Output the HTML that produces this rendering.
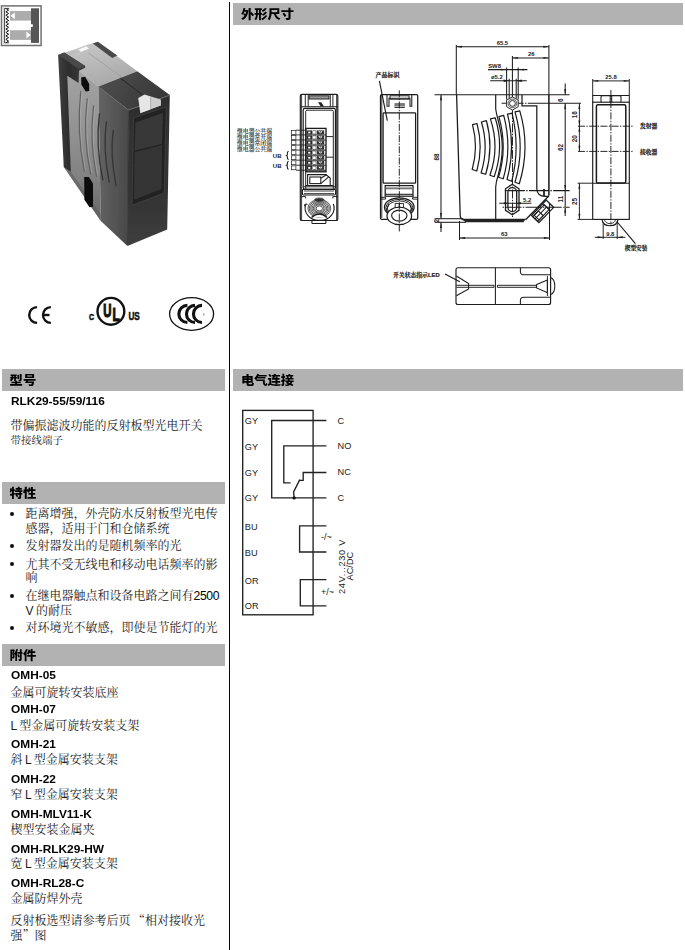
<!DOCTYPE html>
<html lang="zh-CN">
<head>
<meta charset="utf-8">
<title>RLK29-55/59/116</title>
<style>
html,body{margin:0;padding:0;background:#fff;}
body{width:685px;height:950px;position:relative;overflow:hidden;font-family:"Liberation Sans","Noto Serif CJK SC",serif;color:#111;}
.abs{position:absolute;}
.vline{position:absolute;left:229px;top:2px;width:1.2px;height:948px;background:#080808;}
.bar{position:absolute;background:#b2b2b2;height:21.6px;}
.bar span{position:absolute;left:7.6px;top:0.6px;line-height:21.6px;transform:scaleY(0.94);transform-origin:50% 50%;font-family:"Liberation Sans","Noto Sans CJK SC",sans-serif;font-weight:900;font-size:13.3px;color:#000;white-space:nowrap;}
.t{position:absolute;white-space:nowrap;line-height:1;}
.b{font-family:"Liberation Sans",sans-serif;font-weight:bold;font-size:10.8px;color:#000;transform:scaleX(1.10);transform-origin:0 50%;}
.c{font-family:"Liberation Sans","Noto Serif CJK SC",serif;font-size:12px;color:#1c1c1c;word-spacing:-0.8px;}
.q{font-family:"Noto Serif CJK SC",serif;}
.c2{font-family:"Liberation Sans","Noto Serif CJK SC",serif;font-size:10.5px;color:#222;}
.dot{position:absolute;width:3.8px;height:3.8px;border-radius:50%;background:#111;left:10px;margin-top:-0.8px;}
svg{position:absolute;left:0;top:0;overflow:visible;}
svg text{font-family:"Liberation Sans","Noto Serif CJK SC",sans-serif;}
</style>
</head>
<body>
<div class="vline"></div>

<!-- section bars -->
<div class="bar" style="left:233.3px;top:3px;width:449.5px;"><span>外形尺寸</span></div>
<div class="bar" style="left:2px;top:369px;width:222.5px;"><span>型号</span></div>
<div class="bar" style="left:233.3px;top:369px;width:449.5px;"><span>电气连接</span></div>
<div class="bar" style="left:2px;top:482px;width:222.5px;"><span>特性</span></div>
<div class="bar" style="left:2px;top:644.3px;width:222.5px;"><span>附件</span></div>

<!-- model -->
<div class="t b" style="left:10.5px;top:396px;">RLK29-55/59/116</div>
<div class="t c" style="left:10.5px;top:420px;">带偏振滤波功能的反射板型光电开关</div>
<div class="t c2" style="left:10.5px;top:435px;">带接线端子</div>

<!-- features -->
<div class="dot" style="top:512.5px;"></div>
<div class="t c" style="left:25.5px;top:508px;">距离增强，外壳防水反射板型光电传</div>
<div class="t c" style="left:25.5px;top:522.5px;">感器，适用于门和仓储系统</div>
<div class="dot" style="top:544.5px;"></div>
<div class="t c" style="left:25.5px;top:540px;">发射器发出的是随机频率的光</div>
<div class="dot" style="top:563px;"></div>
<div class="t c" style="left:25.5px;top:558.5px;">尤其不受无线电和移动电话频率的影</div>
<div class="t c" style="left:25.5px;top:572px;">响</div>
<div class="dot" style="top:594.5px;"></div>
<div class="t c" style="left:25.5px;top:590px;">在继电器触点和设备电路之间有<span style="font-family:'Liberation Sans',sans-serif;font-size:12.2px;color:#000;letter-spacing:-0.35px;">2500</span></div>
<div class="t c" style="left:25.5px;top:604.5px;">V 的耐压</div>
<div class="dot" style="top:626.5px;"></div>
<div class="t c" style="left:25.5px;top:622px;">对环境光不敏感，即使是节能灯的光</div>

<!-- accessories -->
<div class="t b" style="left:10.5px;top:670px;">OMH-05</div>
<div class="t c" style="left:10.5px;top:686.7px;">金属可旋转安装底座</div>
<div class="t b" style="left:10.5px;top:704px;">OMH-07</div>
<div class="t c" style="left:10.5px;top:719.7px;">L 型金属可旋转安装支架</div>
<div class="t b" style="left:10.5px;top:739px;">OMH-21</div>
<div class="t c" style="left:10.5px;top:754.4px;">斜 L 型金属安装支架</div>
<div class="t b" style="left:10.5px;top:774px;">OMH-22</div>
<div class="t c" style="left:10.5px;top:789.0px;">窄 L 型金属安装支架</div>
<div class="t b" style="left:10.5px;top:809.0px;">OMH-MLV11-K</div>
<div class="t c" style="left:10.5px;top:824.4px;">楔型安装金属夹</div>
<div class="t b" style="left:10.5px;top:844.0px;">OMH-RLK29-HW</div>
<div class="t c" style="left:10.5px;top:858.4px;">宽 L 型金属安装支架</div>
<div class="t b" style="left:10.5px;top:877.7px;">OMH-RL28-C</div>
<div class="t c" style="left:10.5px;top:893.0px;">金属防焊外壳</div>
<div class="t c" style="left:10.5px;top:914.4px;">反射板选型请参考后页 <span class="q">“</span>相对接收光</div>
<div class="t c" style="left:10.5px;top:928.7px;">强<span class="q">”</span>图</div>

<!--PHOTO_S--><svg width="230" height="260" viewBox="0 0 230 260">
<defs>
<filter id="bl" x="-5%" y="-5%" width="110%" height="110%"><feGaussianBlur stdDeviation="0.55"/></filter>
<linearGradient id="gSide" x1="0" y1="0" x2="0" y2="1"><stop offset="0" stop-color="#a6a6a6"/><stop offset="0.45" stop-color="#929292"/><stop offset="0.75" stop-color="#808080"/><stop offset="1" stop-color="#666"/></linearGradient>
<linearGradient id="gStrip" x1="0" y1="0" x2="1" y2="0"><stop offset="0" stop-color="#404040"/><stop offset="0.4" stop-color="#2c2c2c"/><stop offset="1" stop-color="#3e3e3e"/></linearGradient>
<linearGradient id="gLeft" x1="0" y1="0" x2="1" y2="0.1"><stop offset="0" stop-color="#646464"/><stop offset="0.55" stop-color="#565656"/><stop offset="1" stop-color="#4a4a4a"/></linearGradient>
<linearGradient id="gFront" x1="0" y1="0" x2="0" y2="1"><stop offset="0" stop-color="#2e2e2e"/><stop offset="0.7" stop-color="#343434"/><stop offset="1" stop-color="#3e3e3e"/></linearGradient>
<linearGradient id="gTop" x1="0.2" y1="0" x2="0.6" y2="1"><stop offset="0" stop-color="#c8c8c8"/><stop offset="1" stop-color="#a8a8a8"/></linearGradient>
<linearGradient id="gBTop" x1="0" y1="0" x2="1" y2="0.4"><stop offset="0" stop-color="#505050"/><stop offset="1" stop-color="#383838"/></linearGradient>
</defs>
<g filter="url(#bl)">
<!-- top face light gray -->
<polygon points="64.2,52.8 77,48.5 88.5,44.2 97.9,41.9 137.3,71.3 98.4,86.5 79,70.7" fill="url(#gTop)"/>
<line x1="88.5" y1="53" x2="121" y2="76.5" stroke="#9c9c9c" stroke-width="0.8"/>
<polygon points="78.5,49.6 86.5,46.2 89,48.4 81,52" fill="#f8f8f8"/>
<polygon points="67,52.6 74.5,50 78,52.2 70.5,55" fill="#bcbcbc"/>
<!-- side face -->
<polygon points="66,60 98.4,86.5 100.8,221 63.8,167" fill="url(#gSide)"/>
<polygon points="63.8,167 70.8,171.7 100.8,214 100.8,221" fill="#5c5c5c" opacity="0.55"/>
<!-- top right dark piece -->
<polygon points="92.8,43.6 97.9,41.7 117.3,55.4 112.2,58" fill="#484848"/>
<!-- left dark strip with L top -->
<polygon points="58.1,54.9 64.2,52.6 85.2,66 85.2,67.7 79,70.7 78.6,83 67.3,75.8 70.8,171.7 63.8,167" fill="url(#gStrip)"/>
<polygon points="58.1,54.9 64.2,52.6 85.2,66 79,69" fill="#484848"/>
<!-- hex hole -->
<polygon points="81.1,77.5 85.1,76.8 89.2,84 89.2,91 85.7,91.6 81.4,84.5" fill="#0a0a0a"/>
<!-- slot hole -->
<polygon points="84.2,177 88.9,176.9 93,183.4 93,206.7 89.5,207.3 84.4,199.7" fill="#0c0c0c"/>
<!-- front block -->
<polygon points="98.4,86.5 128.8,110.2 127.4,245.9 100.8,221" fill="url(#gLeft)"/>
<polygon points="128.4,110 169.8,95 167.2,229.6 127.4,245.9" fill="url(#gFront)"/>
<polygon points="98.4,86.5 137.3,71.3 169.8,95 128.4,110" fill="url(#gBTop)"/>
<polyline points="98.6,86.8 128.5,110.2 169.6,95.3" fill="none" stroke="#666" stroke-width="0.9"/>
<line x1="128.3" y1="110.4" x2="127.5" y2="245" stroke="#3c3c3c" stroke-width="1"/>
<line x1="120.5" y1="78.2" x2="146" y2="97.5" stroke="#222" stroke-width="0.9"/>
<!-- ribs -->
<g fill="none" stroke-width="1.3" stroke-linecap="round">
<path d="M80.8,91.4 Q76.3,131 84.3,171.2" stroke="#646464"/>
<path d="M87.2,98.9 Q82.6,137 90.7,174.1" stroke="#646464"/>
<path d="M93.6,105.8 Q89.2,140 96.5,176.4" stroke="#646464"/>
<path d="M99.4,113.9 Q95.4,145 102.8,179.9" stroke="#343434"/>
<path d="M106.3,122 Q102.8,150 109.2,182.2" stroke="#343434"/>
<path d="M113.2,130.7 Q109.8,154 116.1,185.7" stroke="#343434"/>
</g>
<g fill="none" stroke-width="0.7" stroke-linecap="round" stroke="#b4b4b4" opacity="0.7">
<path d="M82,92.4 Q77.5,131 85.5,170.2"/>
<path d="M88.4,99.9 Q83.8,137 91.9,173.1"/>
<path d="M94.8,106.8 Q90.4,140 97.7,175.4"/>
</g>
<!-- lens window -->
<polygon points="133.5,117.8 166.3,106.9 164.2,193 132.1,205.3" fill="#242424" stroke="#484848" stroke-width="0.6"/>
<polygon points="135.5,122.6 162.9,113 162,143.8 134.6,150.6" fill="#393939"/>
<polygon points="134.6,152 162,145.2 161.5,189 134.1,199.8" fill="#353535"/>
<!-- LED -->
<polygon points="138.2,98 144.4,94.4 160.8,99.4 160.8,105.5 140.3,113.2" fill="#d2d2d2"/>
<polygon points="138.6,98.4 144.4,95 150.3,96.8 150.3,109.4 140.6,112.8" fill="#e6e6e6"/>
<line x1="150.8" y1="96.8" x2="150.8" y2="109" stroke="#a0a0a0" stroke-width="0.9"/>
<polygon points="151.6,97.4 160.6,100 160.6,105.2 151.6,108.6" fill="#cecece"/>
</g>
</svg>
<!--PHOTO_E-->
<!--ICONS_S--><svg width="230" height="350" viewBox="0 0 230 350">
<!-- mode icon -->
<rect x="1.5" y="5.9" width="39.6" height="39.6" fill="#fff" stroke="#707070" stroke-width="1.5"/>
<rect x="2.4" y="6.8" width="1.8" height="37.8" fill="#dcdcdc"/>
<rect x="10" y="11" width="21.2" height="9.6" fill="#acacac"/>
<rect x="10" y="30.2" width="21.2" height="9.7" fill="#acacac"/>
<rect x="31" y="8.3" width="8" height="34.6" fill="#565656"/>
<rect x="30.6" y="24.2" width="2.2" height="2.8" fill="#fff"/>
<polygon points="10.6,15.8 14.8,12.6 14.8,19.2" fill="#fff"/>
<polygon points="30.6,35 26.4,31.6 26.4,38.4" fill="#fff"/>
<path d="M9.2,8.4 H4.6 V42.8 H9.2" fill="none" stroke="#111" stroke-width="0.8"/>
<path d="M5.9,8.4 L8.6,10.12 L5.9,11.84 L8.6,13.56 L5.9,15.28 L8.6,17.00 L5.9,18.72 L8.6,20.44 L5.9,22.16 L8.6,23.88 L5.9,25.60 L8.6,27.32 L5.9,29.04 L8.6,30.76 L5.9,32.48 L8.6,34.20 L5.9,35.92 L8.6,37.64 L5.9,39.36 L8.6,41.08 L5.9,42.80 " fill="none" stroke="#111" stroke-width="1" stroke-linejoin="round"/>
<!-- CE -->
<g fill="none" stroke="#111" stroke-width="2.4"><title>CE</title>
<path d="M37.1,307.1 A7.9,7.9 0 1 0 37.1,322.9"/>
<path d="M50.9,307.1 A7.9,7.9 0 1 0 50.9,322.9"/>
<path d="M43.1,315 H49.5"/>
</g>
<!-- UL -->
<circle cx="110.9" cy="311.3" r="13.4" fill="none" stroke="#111" stroke-width="2.4"/>
<g font-weight="bold" fill="#111" stroke="#111" stroke-linejoin="miter" vector-effect="non-scaling-stroke" style="font-family:'Liberation Sans',sans-serif">
<text transform="translate(103.3,316.6) scale(0.6,1)" font-size="19" stroke-width="1" vector-effect="non-scaling-stroke">U</text>
<text transform="translate(112.6,321.3) scale(0.64,1)" font-size="18.6" stroke-width="1" vector-effect="non-scaling-stroke">L</text>
<text transform="translate(89,319.5) scale(0.74,1)" font-size="9.4" stroke-width="0.5" vector-effect="non-scaling-stroke">C</text>
<text transform="translate(128.4,319.8) scale(0.8,1)" font-size="10.3" stroke-width="0.45" vector-effect="non-scaling-stroke">US</text>
</g>
<!-- CCC -->
<g><title>CCC</title>
<ellipse cx="191.6" cy="314" rx="22" ry="16.3" fill="none" stroke="#111" stroke-width="1.3"/>
<g fill="none" stroke="#111" stroke-width="3.1">
<path d="M187.4,305.4 A8.55,8.55 0 0 0 187.4,322.5"/>
<path d="M195,305.4 A8.55,8.55 0 0 0 195,322.5"/>
<path d="M202,305.4 A8.55,8.55 0 0 0 202,322.5"/>
</g>
<rect x="203.2" y="313.4" width="1.2" height="2.2" fill="#999"/>
</g>
</svg>
<!--ICONS_E-->
<!--DRAW_S--><svg width="685" height="370" viewBox="0 0 685 370">
<g fill="none" stroke-linecap="butt">
<rect x="300.3" y="94.3" width="37.5" height="126.2" rx="1.6" fill="none" stroke="#1c1c1c" stroke-width="1.15"/>
<line x1="301.6" y1="95" x2="301.6" y2="220" stroke="#1c1c1c" stroke-width="0.85" />
<line x1="336.6" y1="95" x2="336.6" y2="220" stroke="#1c1c1c" stroke-width="0.85" />
<line x1="305.3" y1="94.5" x2="305.3" y2="106.8" stroke="#1c1c1c" stroke-width="0.95" />
<line x1="308.2" y1="94.5" x2="308.2" y2="106.8" stroke="#1c1c1c" stroke-width="0.95" />
<line x1="330.3" y1="94.5" x2="330.3" y2="106.8" stroke="#1c1c1c" stroke-width="0.95" />
<line x1="332.9" y1="94.5" x2="332.9" y2="106.8" stroke="#1c1c1c" stroke-width="0.95" />
<rect x="309" y="95.8" width="20" height="3.2" rx="0" fill="#9a9a9a" stroke="#1c1c1c" stroke-width="0.95"/>
<polygon points="318,102.2 321.2,102.2 324,106.4 320.8,106.4" fill="#222"/>
<line x1="300.3" y1="106.8" x2="337.8" y2="106.8" stroke="#1c1c1c" stroke-width="1.05" />
<rect x="303.2" y="108.4" width="32.2" height="81" rx="1.6" fill="none" stroke="#1c1c1c" stroke-width="1.15"/>
<path d="M305.7,189 V111.4 Q305.7,110.2 307,110.2 H332 Q333.3,110.2 333.3,111.4 V189" fill="none" stroke="#1c1c1c" stroke-width="0.95" />
<rect x="305.8" y="128.4" width="20.2" height="43.4" rx="0" fill="none" stroke="#1c1c1c" stroke-width="1.35"/>
<rect x="306.4" y="130.40" width="5.6" height="4.0" fill="#2a2a2a"/>
<rect x="308.2" y="131.60" width="2.2" height="1.8" fill="#fff"/>
<rect x="312.8" y="130.80" width="3.2" height="3.2" fill="#fff" stroke="#1c1c1c" stroke-width="0.5"/>
<rect x="316.8" y="130.40" width="7.4" height="4.0" fill="#333"/>
<polygon points="318.2,131.30 322.4,131.30 320.8,133.80" fill="#fff"/>
<line x1="320.6" y1="131.00" x2="320.6" y2="134.00" stroke="#222" stroke-width="0.5"/>
<line x1="306" y1="134.95000000000002" x2="326" y2="134.95000000000002" stroke="#1c1c1c" stroke-width="0.95" />
<rect x="291.5" y="130.50" width="4.4" height="3.9" fill="#fff" stroke="#1c1c1c" stroke-width="0.7"/>
<line x1="296" y1="134.9" x2="306" y2="134.9" stroke="#1c1c1c" stroke-width="0.85" />
<rect x="306.4" y="135.45" width="5.6" height="4.0" fill="#2a2a2a"/>
<rect x="308.2" y="136.65" width="2.2" height="1.8" fill="#fff"/>
<rect x="312.8" y="135.85" width="3.2" height="3.2" fill="#fff" stroke="#1c1c1c" stroke-width="0.5"/>
<rect x="316.8" y="135.45" width="7.4" height="4.0" fill="#333"/>
<polygon points="318.2,136.35 322.4,136.35 320.8,138.85" fill="#fff"/>
<line x1="320.6" y1="136.05" x2="320.6" y2="139.05" stroke="#222" stroke-width="0.5"/>
<line x1="306" y1="140.00000000000003" x2="326" y2="140.00000000000003" stroke="#1c1c1c" stroke-width="0.95" />
<rect x="291.5" y="135.55" width="4.4" height="3.9" fill="#fff" stroke="#1c1c1c" stroke-width="0.7"/>
<line x1="296" y1="139.95000000000002" x2="306" y2="139.95000000000002" stroke="#1c1c1c" stroke-width="0.85" />
<rect x="306.4" y="140.50" width="5.6" height="4.0" fill="#2a2a2a"/>
<rect x="308.2" y="141.70" width="2.2" height="1.8" fill="#fff"/>
<rect x="312.8" y="140.90" width="3.2" height="3.2" fill="#fff" stroke="#1c1c1c" stroke-width="0.5"/>
<rect x="316.8" y="140.50" width="7.4" height="4.0" fill="#333"/>
<polygon points="318.2,141.40 322.4,141.40 320.8,143.90" fill="#fff"/>
<line x1="320.6" y1="141.10" x2="320.6" y2="144.10" stroke="#222" stroke-width="0.5"/>
<line x1="306" y1="145.05" x2="326" y2="145.05" stroke="#1c1c1c" stroke-width="0.95" />
<rect x="291.5" y="140.60" width="4.4" height="3.9" fill="#fff" stroke="#1c1c1c" stroke-width="0.7"/>
<line x1="296" y1="145.0" x2="306" y2="145.0" stroke="#1c1c1c" stroke-width="0.85" />
<rect x="306.4" y="145.55" width="5.6" height="4.0" fill="#2a2a2a"/>
<rect x="308.2" y="146.75" width="2.2" height="1.8" fill="#fff"/>
<rect x="312.8" y="145.95" width="3.2" height="3.2" fill="#fff" stroke="#1c1c1c" stroke-width="0.5"/>
<rect x="316.8" y="145.55" width="7.4" height="4.0" fill="#333"/>
<polygon points="318.2,146.45 322.4,146.45 320.8,148.95" fill="#fff"/>
<line x1="320.6" y1="146.15" x2="320.6" y2="149.15" stroke="#222" stroke-width="0.5"/>
<line x1="306" y1="150.10000000000002" x2="326" y2="150.10000000000002" stroke="#1c1c1c" stroke-width="0.95" />
<rect x="291.5" y="145.65" width="4.4" height="3.9" fill="#fff" stroke="#1c1c1c" stroke-width="0.7"/>
<line x1="296" y1="150.05" x2="306" y2="150.05" stroke="#1c1c1c" stroke-width="0.85" />
<rect x="306.4" y="150.60" width="5.6" height="4.0" fill="#2a2a2a"/>
<rect x="308.2" y="151.80" width="2.2" height="1.8" fill="#fff"/>
<rect x="312.8" y="151.00" width="3.2" height="3.2" fill="#fff" stroke="#1c1c1c" stroke-width="0.5"/>
<rect x="316.8" y="150.60" width="7.4" height="4.0" fill="#333"/>
<polygon points="318.2,151.50 322.4,151.50 320.8,154.00" fill="#fff"/>
<line x1="320.6" y1="151.20" x2="320.6" y2="154.20" stroke="#222" stroke-width="0.5"/>
<line x1="306" y1="155.15" x2="326" y2="155.15" stroke="#1c1c1c" stroke-width="0.95" />
<rect x="291.5" y="150.70" width="4.4" height="3.9" fill="#fff" stroke="#1c1c1c" stroke-width="0.7"/>
<line x1="296" y1="155.1" x2="306" y2="155.1" stroke="#1c1c1c" stroke-width="0.85" />
<rect x="306.4" y="155.65" width="5.6" height="4.0" fill="#2a2a2a"/>
<rect x="308.2" y="156.85" width="2.2" height="1.8" fill="#fff"/>
<rect x="312.8" y="156.05" width="3.2" height="3.2" fill="#fff" stroke="#1c1c1c" stroke-width="0.5"/>
<rect x="316.8" y="155.65" width="7.4" height="4.0" fill="#333"/>
<polygon points="318.2,156.55 322.4,156.55 320.8,159.05" fill="#fff"/>
<line x1="320.6" y1="156.25" x2="320.6" y2="159.25" stroke="#222" stroke-width="0.5"/>
<line x1="306" y1="160.20000000000002" x2="326" y2="160.20000000000002" stroke="#1c1c1c" stroke-width="0.95" />
<rect x="291.5" y="155.75" width="4.4" height="3.9" fill="#fff" stroke="#1c1c1c" stroke-width="0.7"/>
<line x1="296" y1="160.15" x2="306" y2="160.15" stroke="#1c1c1c" stroke-width="0.85" />
<rect x="306.4" y="160.70" width="5.6" height="4.0" fill="#2a2a2a"/>
<rect x="308.2" y="161.90" width="2.2" height="1.8" fill="#fff"/>
<rect x="312.8" y="161.10" width="3.2" height="3.2" fill="#fff" stroke="#1c1c1c" stroke-width="0.5"/>
<rect x="316.8" y="160.70" width="7.4" height="4.0" fill="#333"/>
<polygon points="318.2,161.60 322.4,161.60 320.8,164.10" fill="#fff"/>
<line x1="320.6" y1="161.30" x2="320.6" y2="164.30" stroke="#222" stroke-width="0.5"/>
<line x1="306" y1="165.25" x2="326" y2="165.25" stroke="#1c1c1c" stroke-width="0.95" />
<rect x="291.5" y="160.80" width="4.4" height="3.9" fill="#fff" stroke="#1c1c1c" stroke-width="0.7"/>
<line x1="296" y1="165.2" x2="306" y2="165.2" stroke="#1c1c1c" stroke-width="0.85" />
<rect x="306.4" y="165.75" width="5.6" height="4.0" fill="#2a2a2a"/>
<rect x="308.2" y="166.95" width="2.2" height="1.8" fill="#fff"/>
<rect x="312.8" y="166.15" width="3.2" height="3.2" fill="#fff" stroke="#1c1c1c" stroke-width="0.5"/>
<rect x="316.8" y="165.75" width="7.4" height="4.0" fill="#333"/>
<polygon points="318.2,166.65 322.4,166.65 320.8,169.15" fill="#fff"/>
<line x1="320.6" y1="166.35" x2="320.6" y2="169.35" stroke="#222" stroke-width="0.5"/>
<line x1="306" y1="170.3" x2="326" y2="170.3" stroke="#1c1c1c" stroke-width="0.95" />
<rect x="291.5" y="165.85" width="4.4" height="3.9" fill="#fff" stroke="#1c1c1c" stroke-width="0.7"/>
<line x1="296" y1="170.25" x2="306" y2="170.25" stroke="#1c1c1c" stroke-width="0.85" />
<line x1="296" y1="130.2" x2="306" y2="130.2" stroke="#1c1c1c" stroke-width="0.85" />
<path d="M326,136.6 H333.2" fill="none" stroke="#1c1c1c" stroke-width="0.95" />
<path d="M326,157.2 H333.2" fill="none" stroke="#1c1c1c" stroke-width="0.95" />
<path d="M307.6,185.4 V174.6 H326 L330.2,178 V185.4" fill="none" stroke="#1c1c1c" stroke-width="1.05" />
<rect x="309.8" y="177" width="11" height="6.6" rx="0" fill="none" stroke="#1c1c1c" stroke-width="1.05"/>
<path d="M320.8,178.2 L326.6,174.8 M320.8,183.6 L329,176.6" fill="none" stroke="#1c1c1c" stroke-width="1.05" />
<line x1="305.7" y1="185.5" x2="333.3" y2="185.5" stroke="#1c1c1c" stroke-width="1.05" />
<line x1="303.2" y1="186.8" x2="335.4" y2="186.8" stroke="#1c1c1c" stroke-width="0.95" />
<rect x="302.4" y="189.4" width="33.2" height="5.6" rx="1.2" fill="none" stroke="#1c1c1c" stroke-width="1.15"/>
<line x1="304" y1="191" x2="334" y2="191" stroke="#1c1c1c" stroke-width="0.85" />
<line x1="304" y1="193.6" x2="334" y2="193.6" stroke="#1c1c1c" stroke-width="0.85" />
<path d="M300.4,196.6 H305.6 V198.4 M337.7,196.6 H332.8 V198.4" fill="none" stroke="#1c1c1c" stroke-width="0.95" />
<ellipse cx="319.3" cy="199.6" rx="4.6" ry="1.7" fill="#555" stroke="#1c1c1c" stroke-width="0.6"/>
<ellipse cx="319.3" cy="208.4" rx="3.19" ry="2.52" stroke="#1c1c1c" stroke-width="0.75"/>
<ellipse cx="319.3" cy="208.4" rx="4.56" ry="3.60" stroke="#1c1c1c" stroke-width="0.75"/>
<ellipse cx="319.3" cy="208.4" rx="5.93" ry="4.68" stroke="#1c1c1c" stroke-width="0.75"/>
<ellipse cx="319.3" cy="208.4" rx="7.30" ry="5.76" stroke="#1c1c1c" stroke-width="0.75"/>
<ellipse cx="319.3" cy="208.4" rx="8.66" ry="6.84" stroke="#1c1c1c" stroke-width="0.75"/>
<ellipse cx="319.3" cy="208.4" rx="10.03" ry="7.92" stroke="#1c1c1c" stroke-width="0.75"/>
<ellipse cx="319.3" cy="208.4" rx="11.40" ry="9.00" stroke="#1c1c1c" stroke-width="0.75"/>
<path d="M305.6,204.5 A13.4,12.4 0 0 0 319.3,220.3 A13.4,12.4 0 0 0 333.4,204 " fill="none" stroke="#1c1c1c" stroke-width="1.15" />
<path d="M304.6,206 A1.6,1.6 0 0 1 307.4,204.6" fill="none" stroke="#1c1c1c" stroke-width="1.05" />
<path d="M311.5,217.5 Q319.3,210.5 327,217.5" fill="#fff" stroke="#1c1c1c" stroke-width="1.55" />
<rect x="311.9" y="220.5" width="14" height="3" rx="0.8" fill="none" stroke="#1c1c1c" stroke-width="1.05"/>
<text x="237" y="133.3" font-size="5.8" text-anchor="start" font-weight="600" fill="#1a1a1a" textLength="35" lengthAdjust="spacingAndGlyphs">继电器公共端</text>
<text x="237" y="139.05" font-size="5.8" text-anchor="start" font-weight="600" fill="#1a1a1a" textLength="35" lengthAdjust="spacingAndGlyphs">继电器常开端</text>
<text x="237" y="144.8" font-size="5.8" text-anchor="start" font-weight="600" fill="#1a1a1a" textLength="35" lengthAdjust="spacingAndGlyphs">继电器常闭端</text>
<text x="237" y="150.55" font-size="5.8" text-anchor="start" font-weight="600" fill="#1a1a1a" textLength="35" lengthAdjust="spacingAndGlyphs">继电器公共端</text>
<text x="272.8" y="158.3" font-size="6.0" text-anchor="start" font-weight="bold" fill="#1a1a1a" >UB</text>
<text x="272.8" y="168" font-size="6.0" text-anchor="start" font-weight="bold" fill="#1a1a1a" >UB</text>
<path d="M288.6,151.2 Q287.2,151.6 287.4,153.4 Q287.6,155 286.6,155.4 Q287.6,155.8 287.4,157.4 Q287.2,159.2 288.6,159.6" fill="none" stroke="#1c1c1c" stroke-width="1.1" />
<path d="M288.6,161.2 Q287.2,161.6 287.4,163.2 Q287.6,164.8 286.6,165.2 Q287.6,165.6 287.4,167.2 Q287.2,168.8 288.6,169.2" fill="none" stroke="#1c1c1c" stroke-width="1.1" />
<rect x="380.5" y="94.5" width="37.2" height="124.9" rx="1.2" fill="none" stroke="#1c1c1c" stroke-width="1.25"/>
<line x1="381.8" y1="95" x2="381.8" y2="218" stroke="#1c1c1c" stroke-width="0.85" />
<path d="M387,94.5 V106.2 H389 V98.2 H410 V106.2 H411.8 V94.5" fill="none" stroke="#1c1c1c" stroke-width="1.05" />
<rect x="390" y="95.8" width="19" height="3.4" rx="0" fill="none" stroke="#1c1c1c" stroke-width="0.95"/>
<rect x="394.6" y="103.4" width="10.2" height="4.6" fill="#2a2a2a"/>
<line x1="394.6" y1="105" x2="404.8" y2="105" stroke="#fff" stroke-width="0.75" />
<line x1="394.6" y1="106.6" x2="404.8" y2="106.6" stroke="#fff" stroke-width="0.75" />
<rect x="383.1" y="112.8" width="32.5" height="70.4" rx="0.8" fill="none" stroke="#1c1c1c" stroke-width="1.25"/>
<rect x="385.2" y="185.6" width="27.8" height="10.6" rx="0" fill="none" stroke="#1c1c1c" stroke-width="1.25"/>
<rect x="385.6" y="187.4" width="27" height="1.9" fill="#777"/>
<line x1="385.2" y1="194.3" x2="413" y2="194.3" stroke="#1c1c1c" stroke-width="1.05" />
<path d="M380.5,197.3 H385.6 V199.1 H380.5 M417.7,197.3 H412.6 V199.1 H417.7" fill="none" stroke="#1c1c1c" stroke-width="0.95" />
<ellipse cx="399.3" cy="207.2" rx="14.8" ry="9.4" stroke="#1c1c1c" stroke-width="1.3" fill="#fff"/>
<ellipse cx="399.3" cy="207.6" rx="13.4" ry="8.2" stroke="#1c1c1c" stroke-width="1.0"/>
<ellipse cx="399.3" cy="208.2" rx="12" ry="7.2" stroke="#1c1c1c" stroke-width="0.9"/>
<path d="M389,203.6 L386.4,210.6 M409.6,203.6 L412.2,210.6" fill="none" stroke="#1c1c1c" stroke-width="1.05" />
<rect x="395.2" y="203.6" width="8.2" height="4.4" fill="#fff" stroke="#1c1c1c" stroke-width="0.9"/>
<line x1="399.3" y1="203.6" x2="399.3" y2="208" stroke="#1c1c1c" stroke-width="0.95" />
<ellipse cx="399.3" cy="215.9" rx="12.3" ry="8.8" stroke="#1c1c1c" stroke-width="1.2" fill="#fff"/>
<ellipse cx="399.3" cy="215.6" rx="7.7" ry="5.5" stroke="#1c1c1c" stroke-width="1.1" fill="#fff"/>
<line x1="399.3" y1="90.3" x2="399.3" y2="231.4" stroke="#1c1c1c" stroke-width="0.95" stroke-dasharray="7 1.4 1.4 1.4"/>
<text x="375.6" y="77.2" font-size="6" text-anchor="start" font-weight="bold" fill="#1a1a1a" textLength="24" lengthAdjust="spacingAndGlyphs" stroke="#1a1a1a" stroke-width="0.2">产品标识</text>
<line x1="379.4" y1="80.8" x2="387.3" y2="120.6" stroke="#1c1c1c" stroke-width="1.15" />
<line x1="441" y1="94.7" x2="441" y2="218.7" stroke="#1c1c1c" stroke-width="1.05" />
<polygon points="441.00,94.70 441.95,100.30 440.05,100.30" fill="#1c1c1c"/>
<polygon points="441.00,218.70 440.05,213.10 441.95,213.10" fill="#1c1c1c"/>
<line x1="434.6" y1="218.7" x2="463" y2="218.7" stroke="#1c1c1c" stroke-width="1.05" />
<line x1="434.6" y1="222.3" x2="466" y2="222.3" stroke="#1c1c1c" stroke-width="1.05" />
<line x1="441" y1="222.3" x2="441" y2="232" stroke="#1c1c1c" stroke-width="1.05" />
<polygon points="441.00,222.30 441.95,227.90 440.05,227.90" fill="#1c1c1c"/>
<text x="439" y="157" font-size="6.4" text-anchor="middle" font-weight="bold" fill="#1a1a1a" transform="rotate(-90 439 157)" >88</text>
<text x="439" y="220.8" font-size="6.4" text-anchor="middle" font-weight="bold" fill="#1a1a1a" transform="rotate(-90 439 220.8)" >2</text>
<path d="M434.5,94.7 H569.6" fill="none" stroke="#1c1c1c" stroke-width="1.15" />
<path d="M456.6,94.7 L460.2,215.5 Q460.4,219 463.4,219.3" fill="none" stroke="#1c1c1c" stroke-width="1.3" />
<line x1="548.9" y1="94.7" x2="548.9" y2="195.6" stroke="#1c1c1c" stroke-width="1.55" />
<polygon points="460.6,218.7 526,218.7 523.4,222.3 466,222.3" fill="#222"/>
<path d="M522,94.7 V105.8 H536.8 V188.5 Q537,196.4 545.5,196.4 H548.6" fill="none" stroke="#1c1c1c" stroke-width="1.25" />
<line x1="544" y1="189" x2="544" y2="196.2" stroke="#1c1c1c" stroke-width="1.75" />
<line x1="549" y1="195.8" x2="525.6" y2="219.8" stroke="#1c1c1c" stroke-width="1.3" />
<g transform="translate(542.6,211.4) rotate(-46)">
<rect x="-10.6" y="-5.2" width="21.2" height="10.4" rx="0" fill="#fff" stroke="#1c1c1c" stroke-width="1.25"/>
<rect x="-10.6" y="-3.4" width="16.4" height="6.8" rx="0" fill="none" stroke="#1c1c1c" stroke-width="1.05"/>
<line x1="-10.6" y1="-0.2" x2="5.8" y2="-0.2" stroke="#1c1c1c" stroke-width="0.95" />
<rect x="-8.6" y="-3.4" width="6" height="6.8" rx="0" fill="none" stroke="#1c1c1c" stroke-width="1.05"/>
<line x1="5.8" y1="-5.2" x2="5.8" y2="5.2" stroke="#1c1c1c" stroke-width="1.05" />
</g>
<path d="M472.5,124.7 Q478.6,147.5 472.2,169.5 L476.8,171 Q483.5,147.4 477,123.5 Z" fill="#fff" stroke="#1c1c1c" stroke-width="1.2" stroke-linejoin="round"/>
<path d="M481.4,122 Q489.1,147.2 481.1,172.9 L485.7,174.3 Q493.8,147.2 486.4,120.6 Z" fill="#fff" stroke="#1c1c1c" stroke-width="1.2" stroke-linejoin="round"/>
<path d="M490.4,118.9 Q499.9,147.5 489.9,175.3 L494.2,176.7 Q504.5,147.4 495.2,117.8 Z" fill="#fff" stroke="#1c1c1c" stroke-width="1.2" stroke-linejoin="round"/>
<path d="M498.9,116.6 Q507.7,147.7 498.5,177.2 L503.2,178.8 Q512.3,147.6 503.7,115.3 Z" fill="#fff" stroke="#1c1c1c" stroke-width="1.2" stroke-linejoin="round"/>
<path d="M507.5,114.2 Q515.8,147.8 507,179.5 L511.7,181.3 Q520.4,147.4 512,113.1 Z" fill="#fff" stroke="#1c1c1c" stroke-width="1.2" stroke-linejoin="round"/>
<path d="M515,111.8 Q525.4,147.6 515,182.2 L519.3,183.8 Q530.5,147.2 519.8,110.9 Z" fill="#fff" stroke="#1c1c1c" stroke-width="1.2" stroke-linejoin="round"/>
<path d="M495.7,94.7 V109 Q496.4,114 498,119.5 Q502.3,136 502.3,147.3 Q502.3,160 498,175.8 Q496,182 495.7,187 V222" fill="none" stroke="#1c1c1c" stroke-width="1.2" />
<path d="M512.3,184.3 L519,188.8 V210.3 L512.3,214.8 L505.5,210.3 V188.8 Z" fill="#fff" stroke="#1c1c1c" stroke-width="1.3" />
<path d="M507.9,192 A4.4,4.4 0 0 1 516.7,192 V207.2 A4.4,4.4 0 0 1 507.9,207.2 Z" fill="none" stroke="#1c1c1c" stroke-width="1.3" />
<line x1="512.5" y1="97" x2="512.5" y2="217" stroke="#1c1c1c" stroke-width="0.95" stroke-dasharray="9 1.4 1.4 1.4"/>
<line x1="456.3" y1="45" x2="456.3" y2="94.7" stroke="#1c1c1c" stroke-width="1.05" />
<line x1="548.9" y1="45" x2="548.9" y2="94.7" stroke="#1c1c1c" stroke-width="1.05" />
<line x1="456.3" y1="46.8" x2="548.9" y2="46.8" stroke="#1c1c1c" stroke-width="1.05" />
<polygon points="456.30,46.80 461.90,45.85 461.90,47.75" fill="#1c1c1c"/>
<polygon points="548.90,46.80 543.30,47.75 543.30,45.85" fill="#1c1c1c"/>
<text x="502.4" y="44.6" font-size="5.9" text-anchor="middle" font-weight="bold" fill="#1a1a1a" >65.5</text>
<line x1="512.4" y1="56" x2="512.4" y2="97" stroke="#1c1c1c" stroke-width="1.05" />
<line x1="512.4" y1="57.9" x2="548.9" y2="57.9" stroke="#1c1c1c" stroke-width="1.05" />
<polygon points="512.40,57.90 518.00,56.95 518.00,58.85" fill="#1c1c1c"/>
<polygon points="548.90,57.90 543.30,58.85 543.30,56.95" fill="#1c1c1c"/>
<text x="531.2" y="55.8" font-size="5.9" text-anchor="middle" font-weight="bold" fill="#1a1a1a" >26</text>
<line x1="488" y1="69.6" x2="527.4" y2="69.6" stroke="#1c1c1c" stroke-width="1.05" />
<polygon points="506.60,69.60 501.00,70.55 501.00,68.65" fill="#1c1c1c"/>
<polygon points="518.20,69.60 523.80,68.65 523.80,70.55" fill="#1c1c1c"/>
<line x1="506.6" y1="67.6" x2="506.6" y2="99.6" stroke="#1c1c1c" stroke-width="1.05" />
<line x1="518.2" y1="67.6" x2="518.2" y2="99.6" stroke="#1c1c1c" stroke-width="1.05" />
<text x="488.2" y="67.9" font-size="5.9" text-anchor="start" font-weight="bold" fill="#1a1a1a" >SW8</text>
<line x1="490.2" y1="80.7" x2="526.8" y2="80.7" stroke="#1c1c1c" stroke-width="1.05" />
<polygon points="509.20,80.70 503.60,81.90 503.60,79.50" fill="#1c1c1c"/>
<polygon points="516.20,80.70 521.80,79.50 521.80,81.90" fill="#1c1c1c"/>
<line x1="509.2" y1="78.8" x2="509.2" y2="98.6" stroke="#1c1c1c" stroke-width="1.05" />
<line x1="516.2" y1="78.8" x2="516.2" y2="98.6" stroke="#1c1c1c" stroke-width="1.05" />
<text x="491" y="78.9" font-size="5.9" text-anchor="start" font-weight="bold" fill="#1a1a1a" >ø5.2</text>
<line x1="501.6" y1="103.3" x2="536" y2="103.3" stroke="#1c1c1c" stroke-width="1.05" stroke-dasharray="22 1.4 1.4 1.4"/>
<line x1="536" y1="103.3" x2="581" y2="103.3" stroke="#1c1c1c" stroke-width="1.05" />
<line x1="504.8" y1="190.6" x2="569.6" y2="190.6" stroke="#1c1c1c" stroke-width="1.05" stroke-dasharray="20 1.4 1.4 1.4"/>
<line x1="502.6" y1="207.2" x2="569.6" y2="207.2" stroke="#1c1c1c" stroke-width="1.05" stroke-dasharray="1.4 1.4 16 1.4"/>
<line x1="499.2" y1="203.3" x2="531.4" y2="203.3" stroke="#1c1c1c" stroke-width="1.05" />
<polygon points="509.40,203.30 503.80,204.25 503.80,202.35" fill="#1c1c1c"/>
<polygon points="515.40,203.30 521.00,202.35 521.00,204.25" fill="#1c1c1c"/>
<text x="523" y="201.8" font-size="5.9" text-anchor="start" font-weight="bold" fill="#1a1a1a" >5.2</text>
<line x1="565.2" y1="83.6" x2="565.2" y2="94.7" stroke="#1c1c1c" stroke-width="1.05" />
<polygon points="565.20,94.70 564.25,89.10 566.15,89.10" fill="#1c1c1c"/>
<line x1="565.2" y1="103.3" x2="565.2" y2="190.6" stroke="#1c1c1c" stroke-width="1.05" />
<polygon points="565.20,103.30 566.15,108.90 564.25,108.90" fill="#1c1c1c"/>
<polygon points="565.20,190.60 564.25,185.00 566.15,185.00" fill="#1c1c1c"/>
<line x1="565.2" y1="190.6" x2="565.2" y2="207.2" stroke="#1c1c1c" stroke-width="1.05" />
<line x1="565.2" y1="207.2" x2="565.2" y2="216" stroke="#1c1c1c" stroke-width="1.05" />
<polygon points="565.20,207.20 566.15,212.80 564.25,212.80" fill="#1c1c1c"/>
<text x="563" y="100.2" font-size="6.4" text-anchor="middle" font-weight="bold" fill="#1a1a1a" transform="rotate(-90 563 100.2)" >6</text>
<text x="563" y="147.4" font-size="6.4" text-anchor="middle" font-weight="bold" fill="#1a1a1a" transform="rotate(-90 563 147.4)" >62</text>
<text x="563" y="199" font-size="6.4" text-anchor="middle" font-weight="bold" fill="#1a1a1a" transform="rotate(-90 563 199)" >11</text>
<polygon points="512.4,96.9 518.1999999999999,100.10000000000001 518.1999999999999,106.7 512.4,110.10000000000001 506.59999999999997,106.7 506.59999999999997,100.10000000000001" fill="#fff" stroke="#1c1c1c" stroke-width="0.95"/>
<circle cx="512.4" cy="103.4" r="4.3" stroke="#1c1c1c" stroke-width="0.7"/>
<circle cx="512.4" cy="103.4" r="2.9" stroke="#1c1c1c" stroke-width="0.9"/>
<line x1="459.5" y1="221" x2="459.5" y2="240" stroke="#1c1c1c" stroke-width="1.05" />
<line x1="549.5" y1="203" x2="549.5" y2="240" stroke="#1c1c1c" stroke-width="1.05" />
<line x1="459.5" y1="238" x2="549.5" y2="238" stroke="#1c1c1c" stroke-width="1.05" />
<polygon points="459.50,238.00 465.10,237.05 465.10,238.95" fill="#1c1c1c"/>
<polygon points="549.50,238.00 543.90,238.95 543.90,237.05" fill="#1c1c1c"/>
<text x="504.2" y="236.2" font-size="5.9" text-anchor="middle" font-weight="bold" fill="#1a1a1a" >63</text>
<rect x="592.7" y="102.2" width="36.6" height="117.2" rx="0" fill="none" stroke="#1c1c1c" stroke-width="1.15"/>
<path d="M592.7,102.2 V95.4 H629.3 V102.2" fill="none" stroke="#1c1c1c" stroke-width="1.05" />
<path d="M601,102.2 V97 Q601,95.6 602.4,95.6 H619.6 Q621,95.6 621,97 V102.2" fill="none" stroke="#1c1c1c" stroke-width="1.05" />
<line x1="610.2" y1="95.6" x2="610.2" y2="102.2" stroke="#1c1c1c" stroke-width="1.05" />
<line x1="611.7" y1="95.6" x2="611.7" y2="102.2" stroke="#1c1c1c" stroke-width="1.05" />
<rect x="596.4" y="104.8" width="29.4" height="78.2" rx="1.6" fill="none" stroke="#1c1c1c" stroke-width="1.5"/>
<line x1="592.7" y1="183.2" x2="629.3" y2="183.2" stroke="#1c1c1c" stroke-width="1.05" />
<line x1="610.9" y1="90" x2="610.9" y2="226" stroke="#1c1c1c" stroke-width="0.95" stroke-dasharray="7 1.4 1.4 1.4"/>
<line x1="578" y1="126.2" x2="633" y2="126.2" stroke="#1c1c1c" stroke-width="0.95" stroke-dasharray="7 1.4 1.4 1.4"/>
<line x1="578" y1="151.4" x2="633" y2="151.4" stroke="#1c1c1c" stroke-width="0.95" stroke-dasharray="7 1.4 1.4 1.4"/>
<line x1="592.7" y1="79" x2="592.7" y2="95.4" stroke="#1c1c1c" stroke-width="0.95" />
<line x1="629.3" y1="79" x2="629.3" y2="95.4" stroke="#1c1c1c" stroke-width="0.95" />
<line x1="592.7" y1="80.9" x2="629.3" y2="80.9" stroke="#1c1c1c" stroke-width="0.95" />
<polygon points="592.70,80.90 598.30,79.95 598.30,81.85" fill="#1c1c1c"/>
<polygon points="629.30,80.90 623.70,81.85 623.70,79.95" fill="#1c1c1c"/>
<text x="611" y="78.6" font-size="5.8" text-anchor="middle" font-weight="bold" fill="#1a1a1a" >25.8</text>
<line x1="579.4" y1="103.3" x2="579.4" y2="151.4" stroke="#1c1c1c" stroke-width="0.95" />
<polygon points="579.40,103.30 580.35,108.90 578.45,108.90" fill="#1c1c1c"/>
<polygon points="579.40,126.20 578.45,120.60 580.35,120.60" fill="#1c1c1c"/>
<polygon points="579.40,126.20 580.35,131.80 578.45,131.80" fill="#1c1c1c"/>
<polygon points="579.40,151.40 578.45,145.80 580.35,145.80" fill="#1c1c1c"/>
<text x="577.4" y="114.8" font-size="6.4" text-anchor="middle" font-weight="bold" fill="#1a1a1a" transform="rotate(-90 577.4 114.8)" >16</text>
<text x="577.4" y="138.8" font-size="6.4" text-anchor="middle" font-weight="bold" fill="#1a1a1a" transform="rotate(-90 577.4 138.8)" >20</text>
<line x1="577.6" y1="183.2" x2="592.7" y2="183.2" stroke="#1c1c1c" stroke-width="0.95" />
<line x1="577.6" y1="219.4" x2="592.7" y2="219.4" stroke="#1c1c1c" stroke-width="0.95" />
<line x1="579.4" y1="183.2" x2="579.4" y2="219.4" stroke="#1c1c1c" stroke-width="0.95" />
<polygon points="579.40,183.20 580.35,188.80 578.45,188.80" fill="#1c1c1c"/>
<polygon points="579.40,219.40 578.45,213.80 580.35,213.80" fill="#1c1c1c"/>
<text x="577.4" y="201.4" font-size="6.4" text-anchor="middle" font-weight="bold" fill="#1a1a1a" transform="rotate(-90 577.4 201.4)" >25</text>
<text x="640" y="128.4" font-size="6.0" text-anchor="start" font-weight="bold" fill="#1a1a1a" textLength="17.4" lengthAdjust="spacingAndGlyphs" stroke="#1a1a1a" stroke-width="0.2">发射器</text>
<text x="640" y="153.6" font-size="6.0" text-anchor="start" font-weight="bold" fill="#1a1a1a" textLength="17.4" lengthAdjust="spacingAndGlyphs" stroke="#1a1a1a" stroke-width="0.2">接收器</text>
<path d="M602,219.4 Q602.6,225.6 610,225.8 Q617.4,225.6 618,219.4" fill="none" stroke="#1c1c1c" stroke-width="1.15" />
<path d="M604.4,219.4 Q605,223.4 610,223.6 Q615,223.4 615.6,219.4" fill="none" stroke="#1c1c1c" stroke-width="0.85" />
<line x1="603.2" y1="222" x2="603.2" y2="239" stroke="#1c1c1c" stroke-width="0.95" />
<line x1="617.2" y1="222" x2="617.2" y2="239" stroke="#1c1c1c" stroke-width="0.95" />
<line x1="594.8" y1="237.3" x2="625.4" y2="237.3" stroke="#1c1c1c" stroke-width="0.95" />
<polygon points="603.20,237.30 597.60,238.25 597.60,236.35" fill="#1c1c1c"/>
<polygon points="617.20,237.30 622.80,236.35 622.80,238.25" fill="#1c1c1c"/>
<text x="610.2" y="236" font-size="5.8" text-anchor="middle" font-weight="bold" fill="#1a1a1a" >9.8</text>
<line x1="616.8" y1="221.5" x2="635.4" y2="243.6" stroke="#1c1c1c" stroke-width="1.15" />
<text x="624.8" y="250" font-size="6.0" text-anchor="start" font-weight="bold" fill="#1a1a1a" textLength="22.6" lengthAdjust="spacingAndGlyphs" stroke="#1a1a1a" stroke-width="0.2">楔型安装</text>
<rect x="456" y="267.7" width="94.6" height="36.8" rx="2" fill="none" stroke="#1c1c1c" stroke-width="1.15"/>
<line x1="495.4" y1="267.7" x2="495.4" y2="304.5" stroke="#1c1c1c" stroke-width="1.05" />
<path d="M456.4,285.3 H494 M456.4,287.3 H494 M494,285.3 V287.3" fill="none" stroke="#1c1c1c" stroke-width="0.95" />
<path d="M497.4,285.3 H536.4 V287.3 H497.4 Z" fill="none" stroke="#1c1c1c" stroke-width="0.95" />
<path d="M456.4,276 L468.6,283.6 V289 L456.4,295.8" fill="none" stroke="#1c1c1c" stroke-width="1.05" />
<path d="M520.4,267.8 V272.2 Q520.6,274.8 524,274.8 H550.4" fill="none" stroke="#1c1c1c" stroke-width="1.05" />
<path d="M520.4,304.4 V300 Q520.6,297.2 524,297.2 H550.4" fill="none" stroke="#1c1c1c" stroke-width="1.05" />
<path d="M536.6,284.6 L547.4,280 V292.8 L536.6,288 Z" fill="none" stroke="#1c1c1c" stroke-width="1.05" />
<line x1="547.4" y1="276" x2="547.4" y2="296" stroke="#1c1c1c" stroke-width="0.95" />
<path d="M550.6,277.6 Q554.8,279.4 554.8,286.2 Q554.8,293 550.6,294.6" fill="none" stroke="#1c1c1c" stroke-width="1.05" />
<text x="393" y="276.8" font-size="6.0" text-anchor="start" font-weight="bold" fill="#1a1a1a" textLength="46.6" lengthAdjust="spacingAndGlyphs" stroke="#1a1a1a" stroke-width="0.2">开关状态指示LED</text>
<line x1="445" y1="274" x2="459.8" y2="281.8" stroke="#1c1c1c" stroke-width="1.15" />
</g></svg>
<!--DRAW_E-->
<!--ELEC_S--><svg width="685" height="950" viewBox="0 0 685 950">
<g fill="none" stroke="#222" stroke-width="1.35">
<rect x="242.7" y="410.4" width="70.4" height="204.4"/>
<path d="M326.4,420.5 H271.7 V497.9 H326.4"/>
<path d="M326.4,445.8 H283.8 V482.8 H290.6"/>
<path d="M326.4,472.5 H303.2 V480.4 H299.4"/>
<path d="M294.1,497.9 L293.6,492 L299.8,479.6"/>
<path d="M326.4,525.8 H299.6 V552 H326.4"/>
<path d="M326.4,579.6 H300.3 V605.8 H326.4"/>
</g>
<circle cx="294.1" cy="497.9" r="1.7" fill="#111"/>
<g font-size="9.2" fill="#1a1a1a" style="font-family:'Liberation Sans',sans-serif">
<text x="244.8" y="423.8">GY</text>
<text x="244.8" y="450">GY</text>
<text x="244.8" y="476">GY</text>
<text x="244.8" y="501.3">GY</text>
<text x="244.8" y="530.3">BU</text>
<text x="244.8" y="556.2">BU</text>
<text x="244.8" y="584.3">OR</text>
<text x="244.8" y="609">OR</text>
<text x="337.6" y="423.8">C</text>
<text x="337.6" y="448.6">NO</text>
<text x="337.6" y="475.4">NC</text>
<text x="337.6" y="501.3">C</text>
<text x="321" y="540.4" font-size="9">-/~</text>
<text x="321" y="595.2" font-size="9">+/~</text>
<text x="344.7" y="594" transform="rotate(-90 344.7 594)" font-size="9.2" textLength="54.3" lengthAdjust="spacing">24V...230 V</text>
<text x="353.2" y="580.4" transform="rotate(-90 353.2 580.4)" font-size="9.2">AC/DC</text>
</g></svg>
<!--ELEC_E-->
</body>
</html>
